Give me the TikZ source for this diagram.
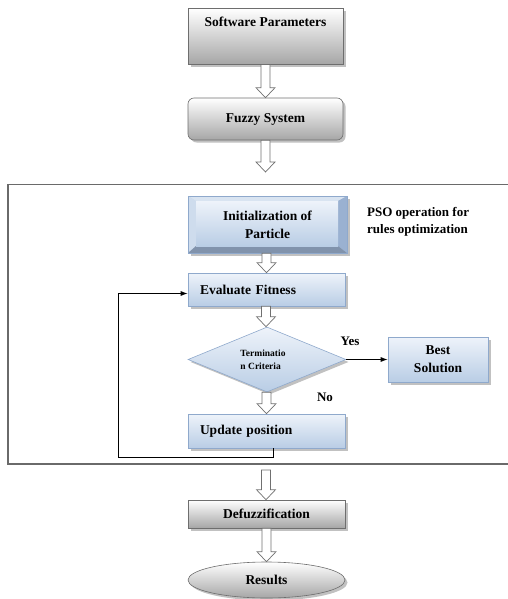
\documentclass[tikz,border=0pt]{standalone}
\usepackage{fontspec}
\setmainfont{Liberation Serif}
\usetikzlibrary{shapes.geometric,shadows,calc,arrows.meta}
\definecolor{boxgray}{HTML}{A6A6A6}
\definecolor{edgegray}{HTML}{6E6E6E}
\definecolor{blueA}{HTML}{EEF3FA}
\definecolor{blueB}{HTML}{B9CDE5}
\definecolor{blueEdge}{HTML}{8FA9CC}
\definecolor{arrgray}{HTML}{707070}
\definecolor{framegray}{HTML}{6A6A6A}
\newcommand\harrow[2]{%
  \draw[harrow] let \p1=(#1), \p2=(#2) in
    (\x1-4.5pt,\y1) -- (\x1-4.5pt,\y2+10pt) -- (\x1-9.5pt,\y2+10pt) -- (\x1,\y2)
    -- (\x1+9.5pt,\y2+10pt) -- (\x1+4.5pt,\y2+10pt) -- (\x1+4.5pt,\y1) -- cycle;}
\begin{document}
\begin{tikzpicture}[x=1pt,y=-1pt,
  every node/.style={font=\bfseries\fontsize{13.5}{18}\selectfont},
  shadowed/.style={drop shadow={shadow xshift=2.5pt,shadow yshift=-2.5pt,opacity=0.35,fill=black!70}},
  graybox/.style={draw=edgegray,line width=0.6pt,top color=white,bottom color=boxgray,shadowed,inner sep=0pt},
  bluebox/.style={draw=blueEdge,line width=0.6pt,top color=blueA,bottom color=blueB,shadowed,inner sep=0pt},
  harrow/.style={draw=arrgray,fill=white,line width=0.7pt,line join=miter},
  fb/.style={draw=black,line width=0.9pt,-{Latex[length=7pt,width=5pt]}},
  lbl/.style={font=\bfseries\fontsize{13}{17}\selectfont,inner sep=0pt}
]
\useasboundingbox (0,0) rectangle (507,599);
% frame (right edge outside picture)
\draw[framegray,line width=1.6pt] (509,184.5) -- (8,184.5) -- (8,464) -- (509,464);

% nodes
\node[graybox,minimum width=155pt,minimum height=56pt,text height=14pt,text depth=34pt,inner ysep=4pt,anchor=north] (sp) at (265.5,8) {Software Parameters};
\node[graybox,rounded corners=6pt,minimum width=155pt,minimum height=42pt] (fs) at (265.5,119) {Fuzzy System};

% initialization bevel box
\node[draw=blueEdge,line width=0.5pt,fill=blueB!80,minimum width=159pt,minimum height=57pt,inner sep=0pt,shadowed,align=center,
  path picture={
    \coordinate (nw) at (path picture bounding box.north west);
    \coordinate (se) at (path picture bounding box.south east);
    \fill[blueA!60!blueB] (nw) -- (nw -| se) -- ([xshift=-9pt,yshift=-5pt]nw -| se) -- ([xshift=8pt,yshift=-5pt]nw) -- cycle;
    \fill[blueB!70!white] (nw) -- ([xshift=8pt,yshift=-5pt]nw) -- ([xshift=8pt,yshift=7pt]nw |- se) -- (nw |- se) -- cycle;
    \fill[blueEdge!90!white] (nw -| se) -- (se) -- ([xshift=-9pt,yshift=7pt]se) -- ([xshift=-9pt,yshift=-5pt]nw -| se) -- cycle;
    \fill[blueEdge!80!black!90] (nw |- se) -- (se) -- ([xshift=-9pt,yshift=7pt]se) -- ([xshift=8pt,yshift=7pt]nw |- se) -- cycle;
    \shade[top color=blueA,bottom color=blueB] ([xshift=8pt,yshift=-5pt]nw) rectangle ([xshift=-9pt,yshift=7pt]se);
  }] (init) at (267.5,224.5) {Initialization of\\Particle};

\node[lbl,anchor=west,align=left] (pso) at (367,222) {PSO operation for\\rules optimization};

\node[bluebox,minimum width=157pt,minimum height=33pt,text width=133pt,align=left] (ef) at (266.5,289.5) {Evaluate Fitness};

\node[diamond,draw=blueEdge,line width=0.6pt,top color=blueA,bottom color=blueB,minimum width=158pt,minimum height=65pt,inner sep=0pt,shadowed] (dia) at (267,359.5) {};
\node[font=\bfseries\fontsize{9.5}{13}\selectfont,align=left,inner sep=0pt] (dtxt) at (263,360) {Terminatio\\n Criteria};

\node[bluebox,minimum width=100pt,minimum height=45pt,align=center] (bs) at (438,359.5) {Best\\Solution};

\node[bluebox,minimum width=157pt,minimum height=34pt,text width=133pt,align=left] (up) at (266.5,431) {Update position};

\node[graybox,minimum width=157pt,minimum height=28pt] (df) at (266.5,514) {Defuzzification};
\node[ellipse,graybox,minimum width=157pt,minimum height=36pt] (res) at (266.5,580) {Results};

\node[lbl] (yes) at (350,341) {Yes};
\node[lbl] (no) at (325,397) {No};

% coordinates for free arrow ends
\coordinate (a2) at (266,172);
\coordinate (a6) at (266,470);
\coordinate (fbc) at (118,457);

% hollow arrows
\harrow{sp.south}{fs.north}
\harrow{fs.south}{a2}
\harrow{[xshift=-1pt]init.south}{ef.north}
\harrow{[xshift=-0.5pt]ef.south}{dia.north}
\harrow{[xshift=-0.5pt]dia.south}{up.north}
\harrow{a6}{df.north}
\harrow{df.south}{res.north}

% connectors
\draw[fb] (dia.east) -- (bs.west);
\draw[fb] ([xshift=6.5pt]up.south) |- (fbc) |- ([yshift=-4pt]ef.west);
\end{tikzpicture}
\end{document}
